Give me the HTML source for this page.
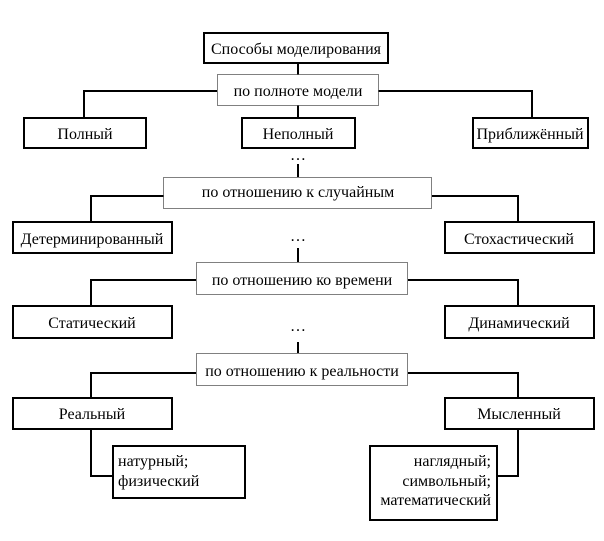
<!DOCTYPE html>
<html><head><meta charset="utf-8"><style>
html,body{margin:0;padding:0;background:#fff;}
svg{display:block;}
text{font-family:"Liberation Serif",serif;font-size:16px;fill:#000;}
</style></head><body>
<svg width="604" height="541" viewBox="0 0 604 541" xmlns="http://www.w3.org/2000/svg">
<g fill="none" stroke="#000" stroke-width="2">
<rect x="204" y="33" width="184" height="30" fill="#fff"/>
<line x1="298" y1="63" x2="298" y2="75"/>
<polyline points="84,118 84,91 217,91"/>
<polyline points="378,91 532,91 532,118"/>
<line x1="298" y1="105" x2="298" y2="118"/>
<rect x="24" y="118" width="122" height="30"/>
<rect x="242" y="118" width="113" height="30"/>
<rect x="473" y="118" width="115" height="30"/>
<line x1="298" y1="164" x2="298" y2="177"/>
<polyline points="91,222 91,196 164,196"/>
<polyline points="432,196 518,196 518,222"/>
<rect x="13" y="222" width="159" height="31"/>
<rect x="445" y="222" width="149" height="31"/>
<line x1="298" y1="248" x2="298" y2="262"/>
<polyline points="91,306 91,280 196,280"/>
<polyline points="408,280 518,280 518,306"/>
<rect x="13" y="306" width="159" height="32"/>
<rect x="445" y="306" width="149" height="32"/>
<line x1="298" y1="342" x2="298" y2="353"/>
<polyline points="91,398 91,373 196,373"/>
<polyline points="408,373 518,373 518,398"/>
<rect x="13" y="398" width="159" height="31"/>
<rect x="445" y="398" width="149" height="31"/>
<polyline points="91,429 91,476 113,476"/>
<polyline points="518,429 518,476 497,476"/>
<rect x="113" y="446" width="132" height="52"/>
<rect x="370" y="446" width="127" height="74"/>
</g>
<g fill="#fff" stroke="#000" stroke-width="1" stroke-dasharray="1,1">
<rect x="217.5" y="74.5" width="161" height="31"/>
<rect x="163.5" y="177.5" width="268" height="31"/>
<rect x="196.5" y="262.5" width="211" height="32"/>
<rect x="196.5" y="353.5" width="211" height="32"/>
</g>
<g text-anchor="middle">
<text x="296" y="54">Способы моделирования</text>
<text x="298" y="96">по полноте модели</text>
<text x="85" y="139">Полный</text>
<text x="298" y="139">Неполный</text>
<text x="530" y="139">Приближённый</text>
<text x="298" y="160">…</text>
<text x="298" y="197">по отношению к случайным</text>
<text x="92" y="244">Детерминированный</text>
<text x="519" y="244">Стохастический</text>
<text x="298" y="241">…</text>
<text x="302" y="285">по отношению ко времени</text>
<text x="92" y="328">Статический</text>
<text x="519" y="328">Динамический</text>
<text x="298" y="331">…</text>
<text x="302" y="376">по отношению к реальности</text>
<text x="92" y="419">Реальный</text>
<text x="519" y="419">Мысленный</text>
</g>
<text x="118" y="466">натурный;</text>
<text x="118" y="486">физический</text>
<g text-anchor="end">
<text x="491" y="466">наглядный;</text>
<text x="491" y="486">символьный;</text>
<text x="491" y="505">математический</text>
</g>
</svg>
</body></html>
